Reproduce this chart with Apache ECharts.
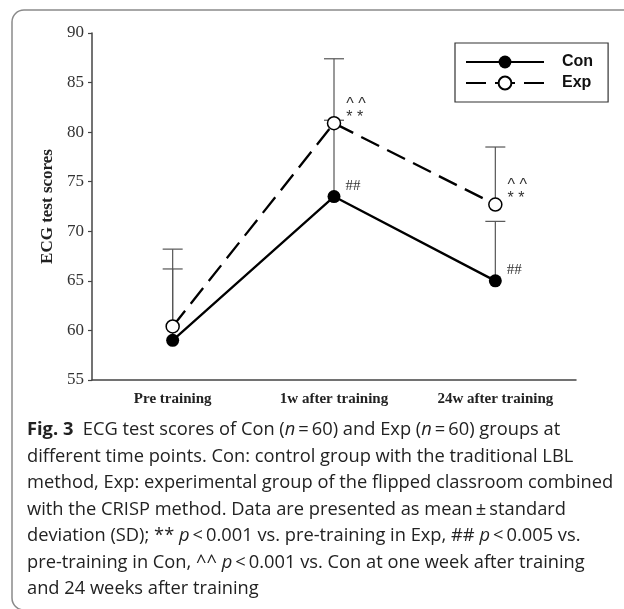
<!DOCTYPE html>
<html>
<head>
<meta charset="utf-8">
<script src="https://cdn.jsdelivr.net/npm/echarts@6/dist/echarts.min.js"></script>
<style>
  html, body { margin: 0; padding: 0; background: #fff; }
  #main { width: 624px; height: 609px; }
</style>
</head>
<body>
<div id="main"></div>
<script>
// values
var categories = ['Pre training', '1w after training', '24w after training'];
var conMean = [59.0, 73.5, 65.0];
var expMean = [60.4, 80.9, 72.7];
var conSd = [7.2, 7.7, 6.0];
var expSd = [7.8, 6.5, 5.8];
var conMarks = ['', '##', '##'];
var expMarks = ['', '{c|^ ^}\n{c|* *}', '{c|^ ^}\n{c|* *}'];

var captionLines = [
    '{b|Fig. 3}  ECG test scores of Con ({i|n}\u2009=\u200960) and Exp ({i|n}\u2009=\u200960) groups at',
    'different time points. Con: control group with the traditional LBL',
    'method, Exp: experimental group of the flipped classroom combined',
    'with the CRISP method. Data are presented as mean\u2009\u00b1\u2009standard',
    'deviation (SD); ** {i|p}\u2009<\u20090.001 vs. pre-training in Exp, ## {i|p}\u2009<\u20090.005 vs.',
    'pre-training in Con, ^^ {i|p}\u2009<\u20090.001 vs. Con at one week after training',
    'and 24 weeks after training'
];

var serif = '"Liberation Serif", "Times New Roman", serif';
var sans = '"Liberation Sans", Arial, sans-serif';
var capFont = '"Open Sans", Roboto, sans-serif';
var capSize = 18.3;

var dom = document.getElementById('main');
var myChart = echarts.init(dom);

function errData(mean, sd) {
    var out = [];
    for (var i = 0; i < mean.length; i++) {
        out.push([i, mean[i], mean[i] + sd[i]]);
    }
    return out;
}

function renderErr(params, api) {
    var lo = api.coord([api.value(0), api.value(1)]);
    var hi = api.coord([api.value(0), api.value(2)]);
    var st = { stroke: '#555', lineWidth: 1.2 };
    return {
        type: 'group',
        children: [
            { type: 'line', shape: { x1: lo[0], y1: lo[1], x2: hi[0], y2: hi[1] }, style: st },
            { type: 'line', shape: { x1: hi[0] - 10, y1: hi[1], x2: hi[0] + 10, y2: hi[1] }, style: st }
        ]
    };
}

var graphics = [{
    type: 'rect',
    shape: { x: 12, y: 10, width: 700, height: 600, r: 12 },
    style: { fill: 'none', stroke: '#8a8a8a', lineWidth: 1.5 },
    silent: true
}];
for (var k = 0; k < captionLines.length; k++) {
    graphics.push({
        type: 'text',
        x: 27,
        y: 430 + k * 26.5,
        style: {
            text: captionLines[k],
            fill: '#222',
            font: capSize + 'px ' + capFont,
            verticalAlign: 'middle',
            rich: {
                b: { fontWeight: 'bold', fontSize: capSize, fontFamily: capFont, fill: '#222' },
                i: { fontStyle: 'italic', fontSize: capSize, fontFamily: capFont, fill: '#222' }
            }
        }
    });
}

var option = {
    animation: false,
    grid: { left: 92, right: 48, top: 33, bottom: 229 },
    legend: {
        orient: 'vertical',
        left: 455,
        top: 43,
        padding: [11, 15, 11, 10],
        itemWidth: 78,
        itemHeight: 16,
        itemGap: 5,
        borderColor: '#333',
        borderWidth: 1.2,
        textStyle: { fontFamily: sans, fontWeight: 'bold', fontSize: 16, color: '#111', padding: [0, 0, 0, 13] },
        data: ['Con', 'Exp']
    },
    xAxis: {
        type: 'category',
        data: categories,
        boundaryGap: true,
        axisLine: { lineStyle: { color: '#444', width: 1.5 } },
        axisTick: { alignWithLabel: true, length: 5, lineStyle: { color: '#444', width: 1.2 } },
        axisLabel: { fontFamily: serif, fontWeight: 'bold', fontSize: 15, color: '#222', margin: 12 }
    },
    yAxis: {
        type: 'value',
        min: 55,
        max: 90,
        interval: 5,
        name: 'ECG test scores',
        nameLocation: 'middle',
        nameGap: 35,
        nameTextStyle: { fontFamily: serif, fontWeight: 'bold', fontSize: 17, color: '#222' },
        splitLine: { show: false },
        axisLine: { show: true, lineStyle: { color: '#444', width: 1.5 } },
        axisTick: { show: true, length: 4, lineStyle: { color: '#444', width: 1.2 } },
        axisLabel: { fontFamily: serif, fontSize: 17, color: '#333', margin: 8 }
    },
    series: [
        {
            name: 'ConErr',
            type: 'custom',
            renderItem: renderErr,
            data: errData(conMean, conSd),
            z: 1,
            silent: true
        },
        {
            name: 'ExpErr',
            type: 'custom',
            renderItem: renderErr,
            data: errData(expMean, expSd),
            z: 1,
            silent: true
        },
        {
            name: 'Con',
            type: 'line',
            data: conMean,
            symbol: 'circle',
            symbolSize: 13,
            z: 3,
            itemStyle: { color: '#000' },
            lineStyle: { color: '#000', width: 2.3 },
            label: {
                show: true,
                position: 'right',
                offset: [0, -11],
                fontFamily: serif,
                fontSize: 15,
                color: '#333',
                formatter: function (p) { return conMarks[p.dataIndex]; }
            }
        },
        {
            name: 'Exp',
            type: 'line',
            data: expMean,
            symbol: 'circle',
            symbolSize: 13,
            z: 3,
            itemStyle: { color: '#fff', borderColor: '#000', borderWidth: 1.5 },
            lineStyle: { color: '#000', width: 2.3, type: [20, 9] },
            label: {
                show: true,
                position: 'right',
                offset: [0, -12],
                formatter: function (p) { return expMarks[p.dataIndex]; },
                rich: {
                    c: { fontFamily: sans, fontSize: 16, lineHeight: 13, color: '#333' }
                }
            }
        }
    ],
    graphic: graphics
};

if (option && typeof option === 'object') {
    myChart.setOption(option, true);
}
</script>
</body>
</html>
